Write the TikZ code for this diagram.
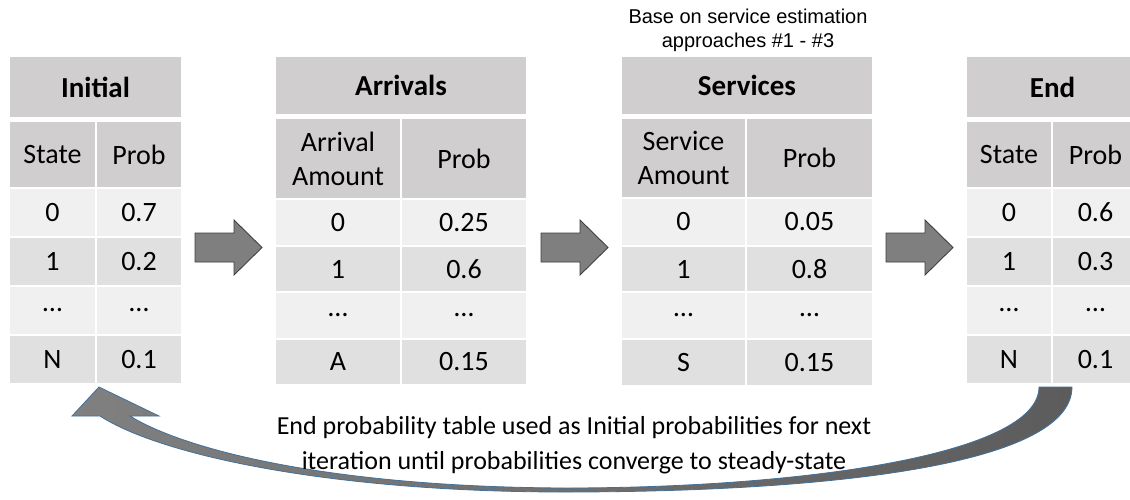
\documentclass[tikz,border=0pt]{standalone}
\usepackage{fontspec}
\setmainfont{Carlito}
\newfontfamily\arialfont{Liberation Sans}

\definecolor{hdr}{HTML}{D0CECE}
\definecolor{rowA}{HTML}{F0F0F0}
\definecolor{rowB}{HTML}{E0E0E0}
\definecolor{arrowfill}{HTML}{7F7F7F}
\definecolor{arrowline}{HTML}{404040}
\definecolor{loopline}{HTML}{41719C}
\definecolor{loopleft}{HTML}{808080}
\definecolor{loopright}{HTML}{5C5C5C}

% table cell: name, x0, y0, x1, y1, style, text  (pixel-style coordinates)
\newcommand\tcell[7]{%
  \node[cellbase,#6,minimum width={(#4)-(#2)-2},minimum height={(#5)-(#3)-2}]
    (#1) at ({((#2)+(#4))/2},{((#3)+(#5))/2}) {#7};}

% block arrow: left end of shaft x0, centre line yc
\newcommand\blockarrow[2]{%
  \draw[blockarrowstyle] (#1,#2-14.5) -- (#1+39,#2-14.5) -- (#1+39,#2-27.5)
    -- (#1+67,#2) -- (#1+39,#2+27.5) -- (#1+39,#2+14.5) -- (#1,#2+14.5) -- cycle;}

\tikzset{
  cellbase/.style={rectangle,inner sep=0pt,outer sep=0pt,align=center,
    font=\fontsize{28}{34}\selectfont},
  titlecell/.style={fill=hdr,font=\fontsize{29}{34}\selectfont\bfseries},
  headcell/.style={fill=hdr},
  lightrow/.style={fill=rowA},
  darkrow/.style={fill=rowB},
  blockarrowstyle/.style={fill=arrowfill,draw=arrowline,line width=0.9pt,line join=miter},
  looparrow/.style={left color=loopleft,right color=loopright,draw=loopline,line width=0.8pt},
  notetext/.style={font=\arialfont\fontsize{20}{24}\selectfont,align=center,inner sep=0pt},
  looptext/.style={font=\fontsize{26}{35}\selectfont,align=center,inner sep=0pt},
}

\begin{document}
\begin{tikzpicture}[x=1pt,y=-1pt]
\useasboundingbox (0,0) rectangle (1130,499);
\fill[white] (0,0) rectangle (1130,499);

% Initial table
\tcell{iniT}{9}{56}{182}{118}{titlecell}{Initial}
\tcell{iniHa}{9}{121}{96}{188}{headcell}{State}
\tcell{iniHb}{96}{121}{182}{188}{headcell}{Prob}
\tcell{ini0a}{9}{188}{96}{237}{lightrow}{0}
\tcell{ini0b}{96}{188}{182}{237}{lightrow}{0.7}
\tcell{ini1a}{9}{237}{96}{286}{darkrow}{1}
\tcell{ini1b}{96}{237}{182}{286}{darkrow}{0.2}
\tcell{ini2a}{9}{286}{96}{335}{lightrow}{…}
\tcell{ini2b}{96}{286}{182}{335}{lightrow}{…}
\tcell{ini3a}{9}{335}{96}{384}{darkrow}{N}
\tcell{ini3b}{96}{335}{182}{384}{darkrow}{0.1}

% Arrivals table
\tcell{arrT}{275}{56}{527}{115}{titlecell}{Arrivals}
\tcell{arrHa}{275}{118}{401}{199}{headcell}{Arrival\\Amount}
\tcell{arrHb}{401}{118}{527}{199}{headcell}{Prob}
\tcell{arr0a}{275}{199}{401}{246}{lightrow}{0}
\tcell{arr0b}{401}{199}{527}{246}{lightrow}{0.25}
\tcell{arr1a}{275}{246}{401}{292}{darkrow}{1}
\tcell{arr1b}{401}{246}{527}{292}{darkrow}{0.6}
\tcell{arr2a}{275}{292}{401}{339}{lightrow}{…}
\tcell{arr2b}{401}{292}{527}{339}{lightrow}{…}
\tcell{arr3a}{275}{339}{401}{385}{darkrow}{A}
\tcell{arr3b}{401}{339}{527}{385}{darkrow}{0.15}

% Services table
\node[notetext] (note) at (748,30) {Base on service estimation\\approaches \#1 - \#3};
\tcell{srvT}{621}{56}{873}{115}{titlecell}{Services}
\tcell{srvHa}{621}{118}{746}{198}{headcell}{Service\\Amount}
\tcell{srvHb}{746}{118}{873}{198}{headcell}{Prob}
\tcell{srv0a}{621}{198}{746}{246}{lightrow}{0}
\tcell{srv0b}{746}{198}{873}{246}{lightrow}{0.05}
\tcell{srv1a}{621}{246}{746}{292}{darkrow}{1}
\tcell{srv1b}{746}{246}{873}{292}{darkrow}{0.8}
\tcell{srv2a}{621}{292}{746}{339}{lightrow}{…}
\tcell{srv2b}{746}{292}{873}{339}{lightrow}{…}
\tcell{srv3a}{621}{339}{746}{386}{darkrow}{S}
\tcell{srv3b}{746}{339}{873}{386}{darkrow}{0.15}

% End table
\tcell{endT}{966}{56}{1139}{118}{titlecell}{End}
\tcell{endHa}{966}{121}{1052}{188}{headcell}{State}
\tcell{endHb}{1052}{121}{1139}{188}{headcell}{Prob}
\tcell{end0a}{966}{188}{1052}{237}{lightrow}{0}
\tcell{end0b}{1052}{188}{1139}{237}{lightrow}{0.6}
\tcell{end1a}{966}{237}{1052}{286}{darkrow}{1}
\tcell{end1b}{1052}{237}{1139}{286}{darkrow}{0.3}
\tcell{end2a}{966}{286}{1052}{335}{lightrow}{…}
\tcell{end2b}{1052}{286}{1139}{335}{lightrow}{…}
\tcell{end3a}{966}{335}{1052}{384}{darkrow}{N}
\tcell{end3b}{1052}{335}{1139}{384}{darkrow}{0.1}

% flow arrows between the tables
\blockarrow{195}{247.5}
\blockarrow{541}{247.5}
\blockarrow{886}{247.5}

% feedback loop from End back to Initial
\shadedraw[looparrow] (100,416) -- (72,416) -- (99,387) -- (159,416) -- (130,416)
  .. controls (185,450) and (330,487) .. (565,488)
  .. controls (800,488) and (1039,455) .. (1039,387)
  -- (1072,387)
  .. controls (1072,470) and (800,492) .. (565,492)
  .. controls (330,492) and (160,455) .. (100,416) -- cycle;

\node[looptext] (loopnote) at (574,445)
  {End probability table used as Initial probabilities for next\\iteration until probabilities converge to steady-state};
\end{tikzpicture}
\end{document}
